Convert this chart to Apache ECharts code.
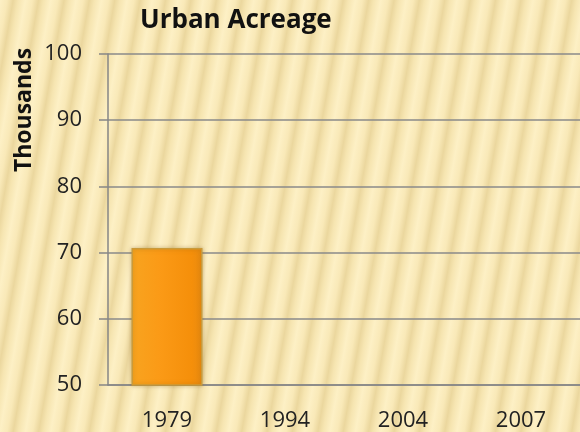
<!DOCTYPE html>
<html><head><meta charset="utf-8">
<script src="https://cdn.jsdelivr.net/npm/echarts@6/dist/echarts.min.js"></script>
<style>
html,body{margin:0;padding:0;}
#c{width:580px;height:432px;
background:repeating-linear-gradient(100deg,#fdf0c5 0px,#f9e9b8 7px,#ebd79e 13px,#f6e5b1 18px,#fdf0c5 25px);}
</style></head>
<body><div id="c"></div>
<script>
var categories = ['1979','1994','2004','2007'];
var acreage = [70.7, null, null, null];
var titleText = 'Urban Acreage';
var axisName = 'Thousands';

var chart = echarts.init(document.getElementById('c'));
var font = '"Open Sans", Lato, sans-serif';
chart.setOption({
  backgroundColor: 'transparent',
  animation: false,
  title: {text: titleText, left: 135, top: 3,
    textStyle: {fontFamily: font, fontWeight: 'bold', fontSize: 26, color: '#111'}},
  graphic: [{type: 'text', x: 24, y: 110, rotation: Math.PI/2,
    style: {text: axisName, fontFamily: font, fontWeight: 'bold', fontSize: 23, fill: '#111',
      align: 'center', verticalAlign: 'middle'}}],
  grid: {left: 108, top: 54, width: 474, height: 332},
  xAxis: {type: 'category', data: categories,
    axisLine: {lineStyle: {color: '#868686', width: 1.5}},
    axisTick: {length: 7, lineStyle: {color: '#868686', width: 1.5}},
    axisLabel: {fontFamily: font, fontSize: 22, color: '#222', margin: 25}},
  yAxis: {type: 'value', min: 50, max: 100, interval: 10,
    axisLine: {show: true, lineStyle: {color: '#868686', width: 1.5}},
    axisTick: {show: true, inside: false, length: 9, lineStyle: {color: '#868686', width: 1.5}},
    splitLine: {lineStyle: {color: '#8a8a8a', width: 1.5}},
    axisLabel: {fontFamily: font, fontSize: 22, color: '#222', margin: 26}},
  series: [{type: 'bar', data: acreage, barWidth: 71, barGap: 0,
    itemStyle: {
      color: new echarts.graphic.LinearGradient(0, 0, 1, 0, [
        {offset: 0, color: '#f8a420'},
        {offset: 0.4, color: '#fb9a16'},
        {offset: 0.85, color: '#f58f0a'},
        {offset: 1, color: '#e88a10'}]),
      borderColor: '#c99a3a', borderWidth: 1.5,
      shadowColor: 'rgba(120,80,0,0.35)', shadowBlur: 4}
  }]
});
</script></body></html>
